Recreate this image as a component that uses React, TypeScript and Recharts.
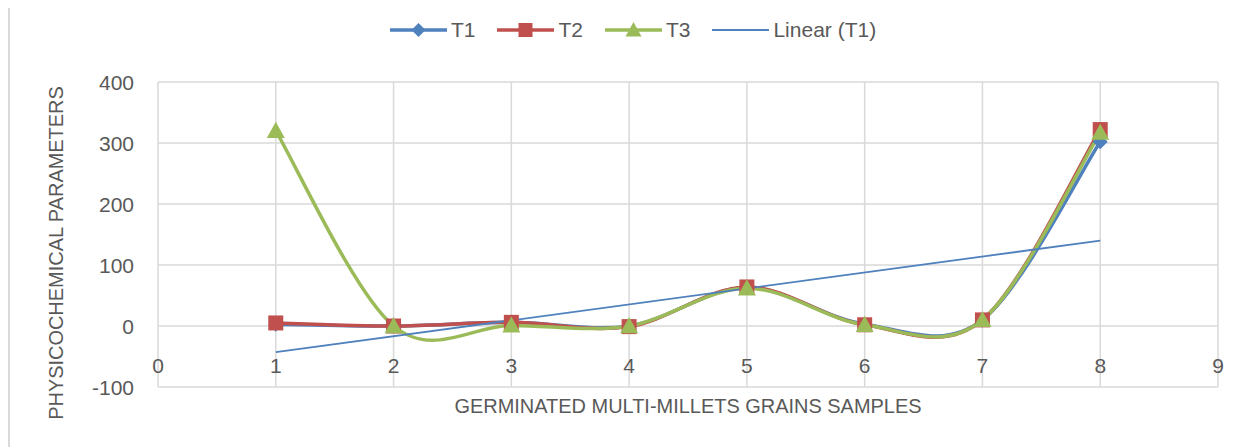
import React from "react";
import { CartesianGrid, Legend, Line, LineChart, XAxis, YAxis } from "recharts";

const samples = [1, 2, 3, 4, 5, 6, 7, 8];
const t1 = [3, 0, 6, 0, 63, 3, 10, 302];
const t2 = [5, 0, 6, -1, 64, 2, 10, 322];
const t3 = [320, 0, 1, 0, 62, 2, 10, 317];
const trendT1 = [-43, null, null, null, null, null, null, 140];

const xTicks = [0, 1, 2, 3, 4, 5, 6, 7, 8, 9];
const yTicks = [-100, 0, 100, 200, 300, 400];

const BLUE = "#4F81BD";
const RED = "#C0504D";
const GREEN = "#9BBB59";
const GRID = "#d9d9d9";
const TEXT = "#595959";
const FONT = "'Liberation Sans Narrow', 'Arial Narrow', 'Liberation Sans', sans-serif";

const rows = samples.map((x, i) => ({
  x,
  t1: t1[i],
  t2: t2[i],
  t3: t3[i],
  trend: trendT1[i],
}));

// Excel-style smoothed line: cubic bezier, control points from neighbours / 6
function excelSmooth(context: any) {
  let pts: [number, number][] = [];
  return {
    areaStart() {},
    areaEnd() {},
    lineStart() {
      pts = [];
    },
    lineEnd() {
      const n = pts.length;
      if (!n) return;
      context.moveTo(pts[0][0], pts[0][1]);
      for (let i = 0; i < n - 1; i++) {
        const p0 = pts[Math.max(0, i - 1)];
        const p1 = pts[i];
        const p2 = pts[i + 1];
        const p3 = pts[Math.min(n - 1, i + 2)];
        context.bezierCurveTo(
          p1[0] + (p2[0] - p0[0]) / 6,
          p1[1] + (p2[1] - p0[1]) / 6,
          p2[0] - (p3[0] - p1[0]) / 6,
          p2[1] - (p3[1] - p1[1]) / 6,
          p2[0],
          p2[1]
        );
      }
    },
    point(x: number, y: number) {
      pts.push([x, y]);
    },
  };
}

const Diamond = ({ cx, cy, s = 7.5 }: any) =>
  cx == null ? null : (
    <path d={`M${cx},${cy - s}L${cx + s},${cy}L${cx},${cy + s}L${cx - s},${cy}Z`} fill={BLUE} />
  );

const Square = ({ cx, cy, s = 7.5 }: any) =>
  cx == null ? null : <rect x={cx - s} y={cy - s} width={s * 2} height={s * 2} fill={RED} />;

const Triangle = ({ cx, cy, s = 9 }: any) =>
  cx == null ? null : (
    <path d={`M${cx},${cy - s}L${cx + s},${cy + s * 0.8}L${cx - s},${cy + s * 0.8}Z`} fill={GREEN} />
  );

const XTick = ({ x, y, payload }: any) => (
  <text x={x} y={y - 22} textAnchor="middle" dominantBaseline="central" fill={TEXT} fontSize={21} fontFamily={FONT}>
    {payload.value}
  </text>
);

const YTick = ({ x, y, payload }: any) => (
  <text x={x - 24} y={y} textAnchor="end" dominantBaseline="central" fill={TEXT} fontSize={21} fontFamily={FONT}>
    {payload.value}
  </text>
);

const legendItems = [
  { label: "T1", color: BLUE, marker: "diamond" },
  { label: "T2", color: RED, marker: "square" },
  { label: "T3", color: GREEN, marker: "triangle" },
  { label: "Linear (T1)", color: BLUE, marker: "none" },
];

const LegendContent = () => (
  <div style={{ display: "flex", justifyContent: "center", paddingLeft: 14, gap: 22, fontFamily: FONT, fontSize: 21, color: TEXT }}>
    {legendItems.map((it) => (
      <div key={it.label} style={{ display: "flex", alignItems: "center", gap: 4 }}>
        <svg width={57} height={20}>
          <line x1={0} y1={10} x2={57} y2={10} stroke={it.color} strokeWidth={it.marker === "none" ? 1.8 : 3.5} />
          {it.marker === "diamond" && <Diamond cx={28.5} cy={10} s={7} />}
          {it.marker === "square" && <Square cx={28.5} cy={10} s={7} />}
          {it.marker === "triangle" && <Triangle cx={28.5} cy={10} s={8} />}
        </svg>
        <span>{it.label}</span>
      </div>
    ))}
  </div>
);

export default function App() {
  return (
    <div style={{ position: "relative", width: 1236, height: 439 }}>
      <div style={{ position: "absolute", left: 0, top: -8, width: 2, height: 447, background: GRID }} />
      <LineChart width={1236} height={439} data={rows} margin={{ top: 50, right: 26, left: 0, bottom: 0 }}>
        <CartesianGrid stroke={GRID} strokeWidth={1.5} verticalValues={xTicks} horizontalValues={yTicks} />
        <XAxis
          dataKey="x"
          type="number"
          domain={[0, 9]}
          ticks={xTicks}
          height={60}
          axisLine={false}
          tickLine={false}
          tickSize={0}
          tickMargin={0}
          tick={<XTick />}
          interval={0}
        />
        <YAxis
          type="number"
          domain={[-100, 400]}
          ticks={yTicks}
          width={150}
          axisLine={false}
          tickLine={false}
          tickSize={0}
          tickMargin={0}
          tick={<YTick />}
          interval={0}
        />
        <Legend verticalAlign="top" wrapperStyle={{ top: 10, left: 0, width: 1236 }} content={<LegendContent />} />
        <Line dataKey="t1" type={excelSmooth as any} stroke={BLUE} strokeWidth={3.5} dot={<Diamond />} activeDot={false} isAnimationActive={false} />
        <Line dataKey="t2" type={excelSmooth as any} stroke={RED} strokeWidth={3.5} dot={<Square />} activeDot={false} isAnimationActive={false} />
        <Line dataKey="t3" type={excelSmooth as any} stroke={GREEN} strokeWidth={3.5} dot={<Triangle />} activeDot={false} isAnimationActive={false} />
        <Line dataKey="trend" type="linear" connectNulls stroke={BLUE} strokeWidth={1.8} dot={false} activeDot={false} isAnimationActive={false} />
      </LineChart>
      <div
        style={{
          position: "absolute",
          left: 150,
          width: 1060,
          top: 386,
          textAlign: "center",
          fontFamily: FONT,
          fontSize: 21,
          color: TEXT,
          whiteSpace: "nowrap",
          transform: "scaleX(0.95)",
        }}
      >
        GERMINATED MULTI-MILLETS GRAINS SAMPLES
      </div>
      <div
        style={{
          position: "absolute",
          left: 48,
          top: 245,
          transform: "translate(-50%, -50%) rotate(-90deg) scaleX(0.95)",
          fontFamily: FONT,
          fontSize: 21,
          color: TEXT,
          whiteSpace: "nowrap",
        }}
      >
        PHYSICOCHEMICAL PARAMETERS
      </div>
    </div>
  );
}
